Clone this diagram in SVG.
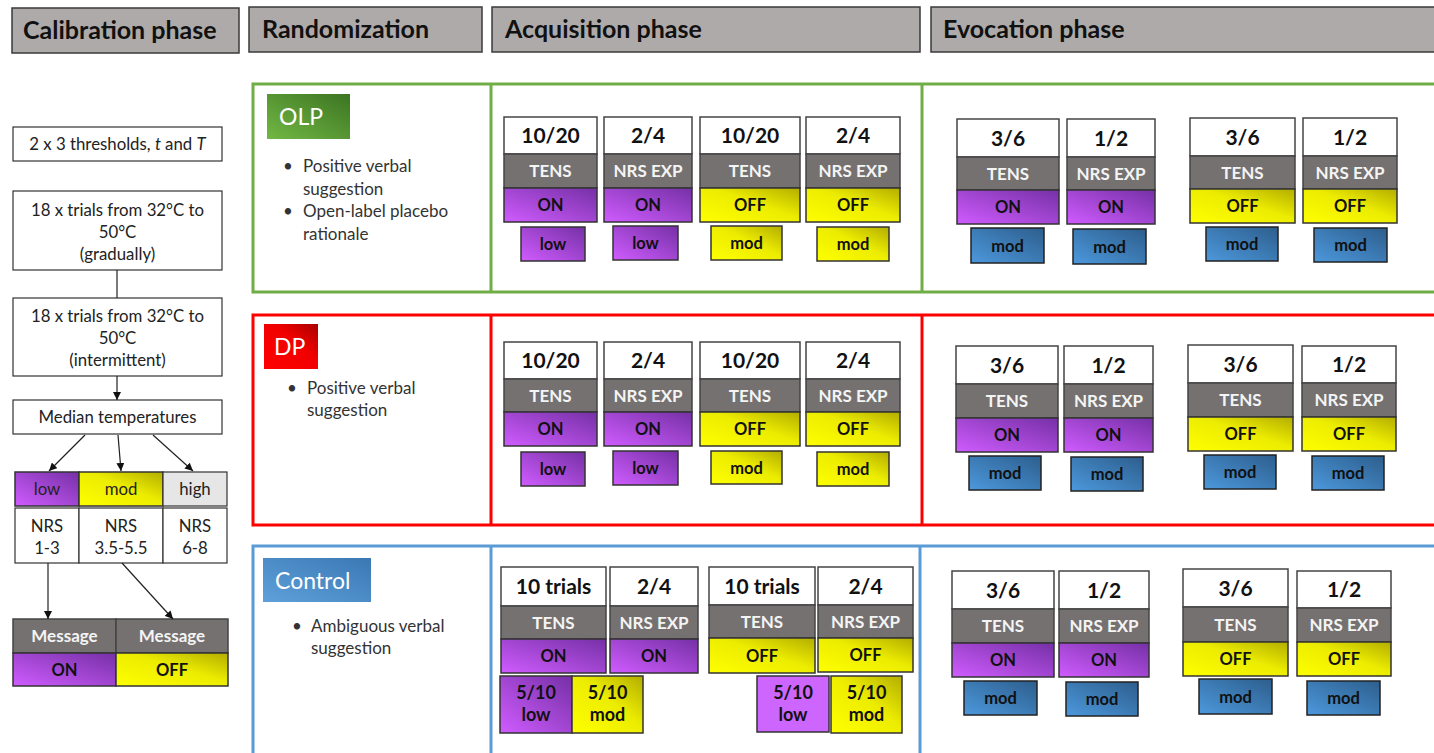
<svg xmlns="http://www.w3.org/2000/svg" width="1434" height="753" viewBox="0 0 1434 753">
<defs>
<linearGradient id="gp" x1="0" y1="1" x2="1" y2="0"><stop offset="0" stop-color="#d05cff"/><stop offset="1" stop-color="#7530a6"/></linearGradient>
<linearGradient id="gy" x1="0" y1="1" x2="1" y2="0"><stop offset="0" stop-color="#ffff00"/><stop offset="0.55" stop-color="#ecec00"/><stop offset="1" stop-color="#b3ad00"/></linearGradient>
<linearGradient id="gb" x1="0" y1="1" x2="1" y2="0"><stop offset="0" stop-color="#4c98dc"/><stop offset="1" stop-color="#2d5e8d"/></linearGradient>
<linearGradient id="gg" x1="0" y1="1" x2="1" y2="0"><stop offset="0" stop-color="#72b844"/><stop offset="1" stop-color="#3c7422"/></linearGradient>
<linearGradient id="gr" x1="0" y1="1" x2="1" y2="0"><stop offset="0" stop-color="#ff0000"/><stop offset="0.6" stop-color="#f00000"/><stop offset="1" stop-color="#a80000"/></linearGradient>
<linearGradient id="gc" x1="0" y1="1" x2="1" y2="0"><stop offset="0" stop-color="#5fa0da"/><stop offset="1" stop-color="#3a78b4"/></linearGradient>
<marker id="ah" viewBox="0 0 10 10" refX="10" refY="5" markerWidth="8" markerHeight="8" markerUnits="userSpaceOnUse" orient="auto"><path d="M0,0 L10,5 L0,10 z" fill="#111"/></marker>
<style>
.hdr{fill:#aeaaaa;stroke:#3a3a3a;stroke-width:1.5}
.ht{font-family:Lato,"Noto Sans",sans-serif;font-weight:bold;font-size:25px;fill:#111}
.box{fill:#fff;stroke:#333;stroke-width:1.2}
.t{font-family:Lato,"Noto Sans",sans-serif;font-size:16.8px;fill:#222;text-anchor:middle}
.w{fill:#fff;stroke:#444;stroke-width:1.5}
.g{fill:#757171;stroke:#444;stroke-width:1.5}
.p{fill:url(#gp);stroke:#333;stroke-width:1.5}
.lp{fill:#cc66ff;stroke:#333;stroke-width:1.5}
.y{fill:url(#gy);stroke:#333;stroke-width:1.5}
.b{fill:url(#gb);stroke:#222;stroke-width:1.5}
.hi{fill:#e7e6e6;stroke:#333;stroke-width:1.2}
.num{font-family:Lato,"Noto Sans",sans-serif;font-weight:bold;font-size:21px;text-anchor:middle;fill:#111}
.lab{font-family:Lato,"Noto Sans",sans-serif;font-weight:bold;font-size:17px;text-anchor:middle;fill:#f4f4f4}
.st{font-family:Lato,"Noto Sans",sans-serif;font-weight:bold;font-size:16.5px;text-anchor:middle;fill:#111}
.sp{font-family:Lato,"Noto Sans",sans-serif;font-weight:bold;font-size:18px;text-anchor:middle;fill:#111}
.bul{font-family:Lato,"Noto Sans",sans-serif;font-size:17px;fill:#333}
.gt{font-family:Lato,"Noto Sans",sans-serif;font-size:23px;fill:#fff}
.ln{stroke:#222;stroke-width:1.2;fill:none}
</style>
</defs>
<rect width="1434" height="753" fill="#fff"/>

<g id="headers">
<rect class="hdr" x="12" y="8" width="227" height="45"/><text class="ht" x="23" y="39">Calibration phase</text>
<rect class="hdr" x="249" y="7" width="233" height="45"/><text class="ht" x="262" y="38">Randomization</text>
<rect class="hdr" x="492" y="7" width="428" height="45"/><text class="ht" x="505" y="38">Acquisition phase</text>
<rect class="hdr" x="931" y="7" width="510" height="45"/><text class="ht" x="943" y="38">Evocation phase</text>
</g>

<g id="calibration">
<g id="thresholds"><rect class="box" x="13" y="127" width="209" height="34"/><text class="t" x="117.5" y="149.5">2 x 3 thresholds, <tspan font-style="italic">t</tspan> and <tspan font-style="italic">T</tspan></text></g>
<g id="gradual"><rect class="box" x="13" y="191" width="209" height="79"/><text class="t" x="117.5" y="216">18 x trials from 32°C to</text><text class="t" x="117.5" y="238">50°C</text><text class="t" x="117.5" y="260">(gradually)</text></g>
<g id="intermittent"><rect class="box" x="13" y="298" width="209" height="78"/><text class="t" x="117.5" y="322">18 x trials from 32°C to</text><text class="t" x="117.5" y="344">50°C</text><text class="t" x="117.5" y="366">(intermittent)</text></g>
<g id="median"><rect class="box" x="13" y="400" width="209" height="34"/><text class="t" x="117.5" y="423">Median temperatures</text></g>
<g id="levels">
<rect class="p" x="15" y="472" width="64" height="34"/><text class="t" x="47" y="495">low</text>
<rect class="y" x="79" y="472" width="84" height="34"/><text class="t" x="121" y="495">mod</text>
<rect class="hi" x="163" y="472" width="64" height="34"/><text class="t" x="195" y="495">high</text>
</g>
<g id="nrs">
<rect class="box" x="15" y="508" width="64" height="55"/><text class="t" x="47" y="532">NRS</text><text class="t" x="47" y="554">1-3</text>
<rect class="box" x="79" y="508" width="84" height="55"/><text class="t" x="121" y="532">NRS</text><text class="t" x="121" y="554">3.5-5.5</text>
<rect class="box" x="163" y="508" width="64" height="55"/><text class="t" x="195" y="532">NRS</text><text class="t" x="195" y="554">6-8</text>
</g>
<g id="message">
<rect class="g" x="13" y="619" width="103" height="34"/><text class="lab" x="64.5" y="642">Message</text>
<rect class="g" x="116" y="619" width="112" height="34"/><text class="lab" x="172" y="642">Message</text>
<rect class="p" x="13" y="653" width="103" height="33"/><text class="st" x="64.5" y="675.5">ON</text>
<rect class="y" x="116" y="653" width="112" height="33"/><text class="st" x="172" y="675.5">OFF</text>
</g>
</g>

<g id="connectors">
<line class="ln" x1="117" y1="270" x2="117" y2="298"/>
<line class="ln" x1="117" y1="376" x2="117" y2="400" marker-end="url(#ah)"/>
<line class="ln" x1="85" y1="435" x2="49" y2="471" marker-end="url(#ah)"/>
<line class="ln" x1="118" y1="435" x2="121" y2="471" marker-end="url(#ah)"/>
<line class="ln" x1="153" y1="435" x2="193" y2="471" marker-end="url(#ah)"/>
<line class="ln" x1="48" y1="563" x2="48" y2="619" marker-end="url(#ah)"/>
<line class="ln" x1="122" y1="563" x2="173" y2="619" marker-end="url(#ah)"/>
</g>

<g id="olp">
<rect x="253" y="84" width="1190" height="208" fill="none" stroke="#70ad47" stroke-width="3"/>
<line x1="491" y1="84" x2="491" y2="292" stroke="#70ad47" stroke-width="3"/>
<line x1="922" y1="84" x2="922" y2="292" stroke="#70ad47" stroke-width="3"/>
<rect x="267" y="94" width="83" height="45" fill="url(#gg)"/><text class="gt" x="279" y="125">OLP</text>
<text class="bul" x="283" y="172">•</text><text class="bul" x="303" y="172">Positive verbal</text>
<text class="bul" x="303" y="195">suggestion</text>
<text class="bul" x="283" y="217">•</text><text class="bul" x="303" y="217">Open-label placebo</text>
<text class="bul" x="303" y="240">rationale</text>
</g>

<g id="olp-acq">
<g><rect class="w" x="504" y="117" width="93" height="37"/><rect class="g" x="504" y="154" width="93" height="34"/><rect class="p" x="504" y="188" width="93" height="34"/><text class="num" x="550.5" y="143">10/20</text><text class="lab" x="550.5" y="177">TENS</text><text class="st" x="550.5" y="211">ON</text></g>
<g><rect class="w" x="604" y="117" width="88" height="37"/><rect class="g" x="604" y="154" width="88" height="34"/><rect class="p" x="604" y="188" width="88" height="34"/><text class="num" x="648" y="143">2/4</text><text class="lab" x="648" y="177">NRS EXP</text><text class="st" x="648" y="211">ON</text></g>
<g><rect class="w" x="700" y="117" width="100" height="37"/><rect class="g" x="700" y="154" width="100" height="34"/><rect class="y" x="700" y="188" width="100" height="34"/><text class="num" x="750" y="143">10/20</text><text class="lab" x="750" y="177">TENS</text><text class="st" x="750" y="211">OFF</text></g>
<g><rect class="w" x="806" y="117" width="94" height="37"/><rect class="g" x="806" y="154" width="94" height="34"/><rect class="y" x="806" y="188" width="94" height="34"/><text class="num" x="853" y="143">2/4</text><text class="lab" x="853" y="177">NRS EXP</text><text class="st" x="853" y="211">OFF</text></g>
<g><rect class="p" x="521" y="227" width="64" height="34"/><text class="st" x="553" y="250">low</text></g>
<g><rect class="p" x="613" y="226" width="65" height="34"/><text class="st" x="645.5" y="249">low</text></g>
<g><rect class="y" x="711" y="226" width="71" height="34"/><text class="st" x="746.5" y="249">mod</text></g>
<g><rect class="y" x="817" y="227" width="72" height="34"/><text class="st" x="853" y="250">mod</text></g>
</g>

<g id="olp-evo">
<g><rect class="w" x="957" y="119" width="102" height="38"/><rect class="g" x="957" y="157" width="102" height="33"/><rect class="p" x="957" y="190" width="102" height="34"/><text class="num" x="1008" y="145.5">3/6</text><text class="lab" x="1008" y="179.5">TENS</text><text class="st" x="1008" y="213">ON</text></g>
<g><rect class="w" x="1067" y="119" width="88" height="38"/><rect class="g" x="1067" y="157" width="88" height="33"/><rect class="p" x="1067" y="190" width="88" height="34"/><text class="num" x="1111" y="145.5">1/2</text><text class="lab" x="1111" y="179.5">NRS EXP</text><text class="st" x="1111" y="213">ON</text></g>
<g><rect class="w" x="1190" y="118" width="105" height="38"/><rect class="g" x="1190" y="156" width="105" height="33"/><rect class="y" x="1190" y="189" width="105" height="34"/><text class="num" x="1242.5" y="144.5">3/6</text><text class="lab" x="1242.5" y="178.5">TENS</text><text class="st" x="1242.5" y="212">OFF</text></g>
<g><rect class="w" x="1303" y="118" width="94" height="38"/><rect class="g" x="1303" y="156" width="94" height="33"/><rect class="y" x="1303" y="189" width="94" height="34"/><text class="num" x="1350" y="144.5">1/2</text><text class="lab" x="1350" y="178.5">NRS EXP</text><text class="st" x="1350" y="212">OFF</text></g>
<g><rect class="b" x="971" y="228" width="73" height="35"/><text class="st" x="1007.5" y="251.5">mod</text></g>
<g><rect class="b" x="1073" y="229" width="73" height="35"/><text class="st" x="1109.5" y="252.5">mod</text></g>
<g><rect class="b" x="1206" y="227" width="72" height="34"/><text class="st" x="1242" y="250">mod</text></g>
<g><rect class="b" x="1314" y="228" width="73" height="34"/><text class="st" x="1350.5" y="251">mod</text></g>
</g>

<g id="dp">
<rect x="253" y="315" width="1190" height="210" fill="none" stroke="#ff0000" stroke-width="3"/>
<line x1="491" y1="315" x2="491" y2="525" stroke="#ff0000" stroke-width="3"/>
<line x1="922" y1="315" x2="922" y2="525" stroke="#ff0000" stroke-width="3"/>
<rect x="264" y="324" width="54" height="45" fill="url(#gr)"/><text class="gt" x="274" y="355">DP</text>
<text class="bul" x="287" y="394">•</text><text class="bul" x="307" y="394">Positive verbal</text>
<text class="bul" x="307" y="416">suggestion</text>
</g>

<g id="dp-acq">
<g><rect class="w" x="504" y="342" width="93" height="37"/><rect class="g" x="504" y="379" width="93" height="33"/><rect class="p" x="504" y="412" width="93" height="34"/><text class="num" x="550.5" y="368">10/20</text><text class="lab" x="550.5" y="401.5">TENS</text><text class="st" x="550.5" y="435">ON</text></g>
<g><rect class="w" x="604" y="342" width="88" height="37"/><rect class="g" x="604" y="379" width="88" height="33"/><rect class="p" x="604" y="412" width="88" height="34"/><text class="num" x="648" y="368">2/4</text><text class="lab" x="648" y="401.5">NRS EXP</text><text class="st" x="648" y="435">ON</text></g>
<g><rect class="w" x="700" y="342" width="100" height="37"/><rect class="g" x="700" y="379" width="100" height="33"/><rect class="y" x="700" y="412" width="100" height="34"/><text class="num" x="750" y="368">10/20</text><text class="lab" x="750" y="401.5">TENS</text><text class="st" x="750" y="435">OFF</text></g>
<g><rect class="w" x="806" y="342" width="94" height="37"/><rect class="g" x="806" y="379" width="94" height="33"/><rect class="y" x="806" y="412" width="94" height="34"/><text class="num" x="853" y="368">2/4</text><text class="lab" x="853" y="401.5">NRS EXP</text><text class="st" x="853" y="435">OFF</text></g>
<g><rect class="p" x="521" y="452" width="64" height="34"/><text class="st" x="553" y="475">low</text></g>
<g><rect class="p" x="613" y="451" width="65" height="34"/><text class="st" x="645.5" y="474">low</text></g>
<g><rect class="y" x="711" y="451" width="71" height="33"/><text class="st" x="746.5" y="474">mod</text></g>
<g><rect class="y" x="817" y="452" width="72" height="34"/><text class="st" x="853" y="475">mod</text></g>
</g>

<g id="dp-evo">
<g><rect class="w" x="956" y="346" width="102" height="38"/><rect class="g" x="956" y="384" width="102" height="34"/><rect class="p" x="956" y="418" width="102" height="34"/><text class="num" x="1007" y="372.5">3/6</text><text class="lab" x="1007" y="407">TENS</text><text class="st" x="1007" y="441">ON</text></g>
<g><rect class="w" x="1064" y="346" width="89" height="38"/><rect class="g" x="1064" y="384" width="89" height="34"/><rect class="p" x="1064" y="418" width="89" height="34"/><text class="num" x="1108.5" y="372.5">1/2</text><text class="lab" x="1108.5" y="407">NRS EXP</text><text class="st" x="1108.5" y="441">ON</text></g>
<g><rect class="w" x="1188" y="345" width="105" height="38"/><rect class="g" x="1188" y="383" width="105" height="34"/><rect class="y" x="1188" y="417" width="105" height="34"/><text class="num" x="1240.5" y="371.5">3/6</text><text class="lab" x="1240.5" y="406">TENS</text><text class="st" x="1240.5" y="440">OFF</text></g>
<g><rect class="w" x="1302" y="346" width="94" height="37"/><rect class="g" x="1302" y="383" width="94" height="34"/><rect class="y" x="1302" y="417" width="94" height="34"/><text class="num" x="1349" y="372">1/2</text><text class="lab" x="1349" y="406">NRS EXP</text><text class="st" x="1349" y="440">OFF</text></g>
<g><rect class="b" x="969" y="456" width="72" height="34"/><text class="st" x="1005" y="479">mod</text></g>
<g><rect class="b" x="1071" y="457" width="72" height="34"/><text class="st" x="1107" y="480">mod</text></g>
<g><rect class="b" x="1204" y="455" width="72" height="34"/><text class="st" x="1240" y="478">mod</text></g>
<g><rect class="b" x="1312" y="456" width="72" height="34"/><text class="st" x="1348" y="479">mod</text></g>
</g>

<g id="control">
<rect x="253" y="546" width="1190" height="220" fill="none" stroke="#5b9bd5" stroke-width="3"/>
<line x1="491" y1="546" x2="491" y2="760" stroke="#5b9bd5" stroke-width="3"/>
<line x1="920" y1="546" x2="920" y2="760" stroke="#5b9bd5" stroke-width="3"/>
<rect x="263" y="558" width="108" height="44" fill="url(#gc)"/><text class="gt" x="275" y="589">Control</text>
<text class="bul" x="292" y="632">•</text><text class="bul" x="311" y="632">Ambiguous verbal</text>
<text class="bul" x="311" y="654">suggestion</text>
</g>

<g id="control-acq">
<g><rect class="w" x="501" y="567" width="105" height="39"/><rect class="g" x="501" y="606" width="105" height="33"/><rect class="p" x="501" y="639" width="105" height="34"/><text class="num" x="553.5" y="594">10 trials</text><text class="lab" x="553.5" y="628.5">TENS</text><text class="st" x="553.5" y="662">ON</text></g>
<g><rect class="w" x="610" y="567" width="88" height="39"/><rect class="g" x="610" y="606" width="88" height="33"/><rect class="p" x="610" y="639" width="88" height="34"/><text class="num" x="654" y="594">2/4</text><text class="lab" x="654" y="628.5">NRS EXP</text><text class="st" x="654" y="662">ON</text></g>
<g><rect class="w" x="709" y="567" width="106" height="38"/><rect class="g" x="709" y="605" width="106" height="33"/><rect class="y" x="709" y="638" width="106" height="35"/><text class="num" x="762" y="593.5">10 trials</text><text class="lab" x="762" y="627.5">TENS</text><text class="st" x="762" y="662">OFF</text></g>
<g><rect class="w" x="818" y="567" width="95" height="38"/><rect class="g" x="818" y="605" width="95" height="33"/><rect class="y" x="818" y="638" width="95" height="34"/><text class="num" x="865.5" y="593.5">2/4</text><text class="lab" x="865.5" y="627.5">NRS EXP</text><text class="st" x="865.5" y="661">OFF</text></g>
<g><rect class="p" x="500" y="676" width="72" height="57"/><text class="sp" x="536" y="699">5/10</text><text class="sp" x="536" y="721">low</text></g>
<g><rect class="y" x="572" y="676" width="71" height="57"/><text class="sp" x="607.5" y="699">5/10</text><text class="sp" x="607.5" y="721">mod</text></g>
<g><rect class="lp" x="757" y="676" width="72" height="56"/><text class="sp" x="793" y="699">5/10</text><text class="sp" x="793" y="721">low</text></g>
<g><rect class="y" x="831" y="676" width="71" height="57"/><text class="sp" x="866.5" y="699">5/10</text><text class="sp" x="866.5" y="721">mod</text></g>
</g>

<g id="control-evo">
<g><rect class="w" x="952" y="571" width="102" height="38"/><rect class="g" x="952" y="609" width="102" height="34"/><rect class="p" x="952" y="643" width="102" height="34"/><text class="num" x="1003" y="597.5">3/6</text><text class="lab" x="1003" y="632">TENS</text><text class="st" x="1003" y="666">ON</text></g>
<g><rect class="w" x="1059" y="571" width="90" height="38"/><rect class="g" x="1059" y="609" width="90" height="34"/><rect class="p" x="1059" y="643" width="90" height="34"/><text class="num" x="1104" y="597.5">1/2</text><text class="lab" x="1104" y="632">NRS EXP</text><text class="st" x="1104" y="666">ON</text></g>
<g><rect class="w" x="1183" y="569" width="105" height="38"/><rect class="g" x="1183" y="607" width="105" height="35"/><rect class="y" x="1183" y="642" width="105" height="34"/><text class="num" x="1235.5" y="595.5">3/6</text><text class="lab" x="1235.5" y="630.5">TENS</text><text class="st" x="1235.5" y="665">OFF</text></g>
<g><rect class="w" x="1297" y="571" width="94" height="37"/><rect class="g" x="1297" y="608" width="94" height="34"/><rect class="y" x="1297" y="642" width="94" height="34"/><text class="num" x="1344" y="597">1/2</text><text class="lab" x="1344" y="631">NRS EXP</text><text class="st" x="1344" y="665">OFF</text></g>
<g><rect class="b" x="964" y="681" width="73" height="34"/><text class="st" x="1000.5" y="704">mod</text></g>
<g><rect class="b" x="1066" y="682" width="72" height="34"/><text class="st" x="1102" y="705">mod</text></g>
<g><rect class="b" x="1199" y="679" width="73" height="35"/><text class="st" x="1235.5" y="702.5">mod</text></g>
<g><rect class="b" x="1307" y="681" width="73" height="34"/><text class="st" x="1343.5" y="704">mod</text></g>
</g>
</svg>
